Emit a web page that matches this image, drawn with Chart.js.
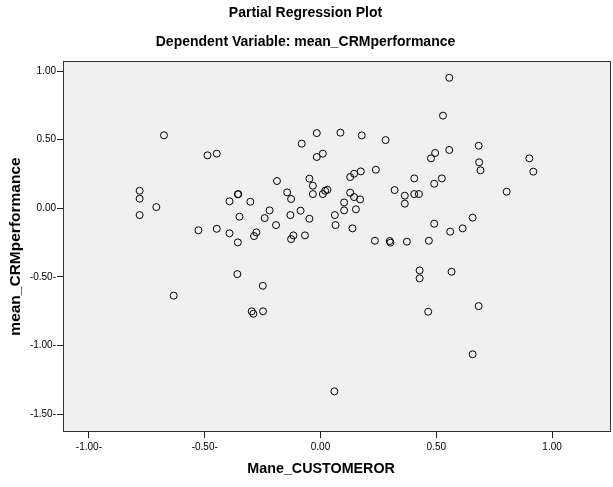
<!DOCTYPE html>
<html>
<head>
<meta charset="utf-8">
<script src="https://cdn.jsdelivr.net/npm/chart.js@4.4.1/dist/chart.umd.min.js"></script>
<style>
  html, body { margin: 0; padding: 0; background: #fff; }
</style>
</head>
<body>
<canvas id="myChart" width="613" height="487"></canvas>
<script>
// partial regression residuals
const xVals = [
  -0.676, -0.488, -0.448, -0.781, -0.781, -0.709, -0.781, -0.527, -0.448, -0.393,
  -0.357, -0.355, -0.393, -0.303, -0.350, -0.357, -0.287, -0.277, -0.241, -0.220,
  -0.192, -0.188, -0.144, -0.127, -0.130, -0.086, -0.048, -0.127, -0.117, -0.067,
  -0.081, -0.016, -0.016, 0.010, -0.048, -0.033, -0.033, 0.010, 0.020, 0.030,
  0.062, 0.065, 0.086, 0.556, 0.529, 0.178, 0.281, 0.556, 0.683, 0.477,
  0.495, 0.685, 0.691, 0.902, 0.919, 0.128, 0.145, 0.174, 0.239, 0.128,
  0.145, 0.171, 0.102, 0.102, 0.153, 0.138, 0.320, 0.364, 0.364, 0.405,
  0.425, 0.405, 0.491, 0.524, 0.804, 0.491, 0.560, 0.614, 0.657, 0.235,
  0.299, 0.302, 0.373, 0.468, -0.359, -0.249, -0.634, -0.297, -0.290, -0.248,
  0.060, 0.428, 0.428, 0.566, 0.465, 0.683, 0.657
];
const yVals = [
  0.532, 0.386, 0.398, 0.128, 0.070, 0.009, -0.049, -0.160, -0.149, -0.182,
  0.102, 0.104, 0.051, 0.048, -0.061, -0.248, -0.202, -0.175, -0.071, -0.015,
  -0.122, 0.199, 0.116, 0.068, -0.049, -0.017, -0.076, -0.224, -0.197, -0.197,
  0.471, 0.548, 0.374, 0.398, 0.216, 0.165, 0.104, 0.104, 0.128, 0.135,
  -0.049, -0.122, 0.551, 0.951, 0.675, 0.531, 0.497, 0.425, 0.456, 0.364,
  0.403, 0.335, 0.277, 0.364, 0.267, 0.228, 0.252, 0.269, 0.281, 0.114,
  0.082, 0.065, 0.043, -0.015, -0.007, -0.146, 0.133, 0.092, 0.034, 0.104,
  0.104, 0.218, 0.179, 0.218, 0.121, -0.112, -0.170, -0.146, -0.068, -0.236,
  -0.238, -0.250, -0.243, -0.236, -0.479, -0.564, -0.636, -0.750, -0.768, -0.750,
  -1.333, -0.452, -0.510, -0.462, -0.753, -0.712, -1.063
];

const xTicks = [-1, -0.5, 0, 0.5, 1];
const xTickLabels = ["-1.00-", "-0.50-", "0.00", "0.50", "1.00"];
const yTicks = [-1.5, -1, -0.5, 0, 0.5, 1];
const yTickLabels = ["-1.50-", "-1.00-", "-0.50-", "0.00", "0.50", "1.00"];

const points = xVals.map((x, i) => ({ x: x, y: yVals[i] }));

const FONT = '"Liberation Sans", Arial, sans-serif';

// grey plot background + frame like SPSS
const plotFrame = {
  id: "plotFrame",
  beforeDraw(chart) {
    const { ctx, chartArea: a } = chart;
    ctx.save();
    ctx.fillStyle = "#fff";
    ctx.fillRect(0, 0, chart.width, chart.height);
    ctx.fillStyle = "#f0f0f0";
    ctx.fillRect(a.left, a.top, a.right - a.left, a.bottom - a.top);
    ctx.strokeStyle = "#333";
    ctx.lineWidth = 1;
    ctx.strokeRect(a.left + 0.5, a.top + 0.5, a.right - a.left - 1, a.bottom - a.top - 1);
    ctx.restore();
  },
};

const ctx = document.getElementById("myChart");

new Chart(ctx, {
  type: "scatter",
  data: {
    datasets: [
      {
        data: points,
        pointStyle: "circle",
        pointRadius: 3.5,
        pointBorderWidth: 1,
        borderColor: "#000",
        backgroundColor: "rgba(0,0,0,0)",
      },
    ],
  },
  options: {
    responsive: false,
    animation: false,
    layout: { autoPadding: false, padding: { left: 0, right: 2, top: 0, bottom: 0 } },
    plugins: {
      legend: { display: false },
      tooltip: { enabled: false },
      title: {
        display: true,
        text: "Partial Regression Plot",
        color: "#000",
        font: { family: FONT, size: 14, weight: "bold" },
        padding: { top: 5, bottom: 4 },
      },
      subtitle: {
        display: true,
        text: "Dependent Variable: mean_CRMperformance",
        color: "#000",
        font: { family: FONT, size: 14, weight: "bold" },
        padding: { top: 8, bottom: 10.4 },
      },
    },
    scales: {
      x: {
        type: "linear",
        min: -1.112,
        max: 1.2545,
        afterBuildTicks: (scale) => {
          scale.ticks = xTicks.map((v) => ({ value: v }));
        },
        afterFit: (scale) => {
          scale.height = 55;
          scale.paddingLeft = 0;
          scale.paddingRight = 0;
        },
        ticks: {
          color: "#000",
          padding: 3,
          font: { family: FONT, size: 10 },
          callback: (v, i) => xTickLabels[i],
        },
        grid: {
          display: true,
          drawOnChartArea: false,
          drawTicks: true,
          tickLength: 6,
          color: "#222",
        },
        border: { display: false },
        title: {
          display: true,
          // trailing spaces pull the centred title left, onto the 0.00 tick as in SPSS
          text: "Mane_CUSTOMEROR        ",
          color: "#000",
          font: { family: FONT, size: 14.3, weight: "bold" },
          padding: { top: 0, bottom: 9.5 },
        },
      },
      y: {
        type: "linear",
        min: -1.629,
        max: 1.073,
        afterBuildTicks: (scale) => {
          scale.ticks = yTicks.map((v) => ({ value: v }));
        },
        afterFit: (scale) => {
          scale.width = 63;
          scale.paddingTop = 0;
          scale.paddingBottom = 0;
        },
        ticks: {
          color: "#000",
          padding: 1,
          font: { family: FONT, size: 10 },
          callback: (v, i) => yTickLabels[i],
        },
        grid: {
          display: true,
          drawOnChartArea: false,
          drawTicks: true,
          tickLength: 6,
          color: "#222",
        },
        border: { display: false },
        title: {
          display: true,
          text: "mean_CRMperformance",
          color: "#000",
          font: { family: FONT, size: 15.5, weight: "bold" },
          padding: { top: 6.7, bottom: 0 },
        },
      },
    },
  },
  plugins: [plotFrame],
});
</script>
</body>
</html>
